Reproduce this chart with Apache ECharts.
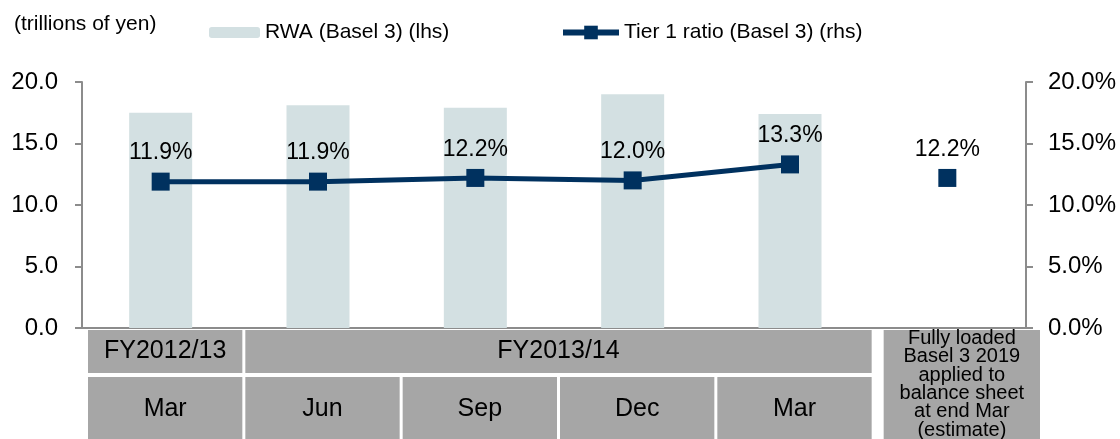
<!DOCTYPE html>
<html>
<head>
<meta charset="utf-8">
<script src="https://cdn.jsdelivr.net/npm/echarts@6/dist/echarts.min.js"></script>
<style>
  html, body { margin: 0; padding: 0; background: #fff; }
  #chart { width: 1120px; height: 439px; }
</style>
</head>
<body>
<div id="chart"></div>
<script>
  // data
  const categories = ['Mar 2013', 'Jun 2013', 'Sep 2013', 'Dec 2013', 'Mar 2014', 'Fully loaded 2019'];
  const rwa = [17.5, 18.1, 17.9, 19.0, 17.4, null];           // trillions of yen (lhs)
  const tier1 = [11.9, 11.9, 12.2, 12.0, 13.3, null];         // % (rhs)
  const tier1Estimate = [null, null, null, null, null, 12.2]; // % (rhs), not joined
  const leftTicks = [0, 20, 5];   // min, max, interval
  const rightTicks = [0, 20, 5];
  const fiscalYears = [
    { label: 'FY2012/13', from: 0, to: 0 },
    { label: 'FY2013/14', from: 1, to: 4 }
  ];
  const monthLabels = ['Mar', 'Jun', 'Sep', 'Dec', 'Mar'];
  const estimateLabel = 'Fully loaded\nBasel 3 2019\napplied to\nbalance sheet\nat end Mar\n(estimate)';

  const FONT = '"Liberation Sans", Arial, sans-serif';
  const NAVY = '#00315f';
  const GREY_AXIS = '#8c8c8c';
  const CELL = '#a6a6a6';

  const chart = echarts.init(document.getElementById('chart'));

  const pctLabel = {
    show: true,
    position: 'top',
    distance: 8,
    color: '#000',
    fontSize: 23,
    fontFamily: FONT,
    formatter: p => p.value.toFixed(1) + '%'
  };

  chart.setOption({
    animation: false,
    textStyle: { fontFamily: FONT },
    grid: { left: 82, right: 94, top: 82, bottom: 111 },
    legend: [
      {
        data: ['RWA (Basel 3) (lhs)'],
        left: 209, top: 22, padding: 0,
        itemWidth: 51, itemHeight: 11,
        textStyle: { fontSize: 21, color: '#000', fontFamily: FONT }
      },
      {
        data: [{ name: 'Tier 1 ratio (Basel 3) (rhs)', lineStyle: { width: 6 } }],
        left: 560, top: 22, padding: 0,
        itemWidth: 56, itemHeight: 17,
        textStyle: { fontSize: 21, color: '#000', fontFamily: FONT }
      }
    ],
    xAxis: {
      type: 'category',
      data: categories,
      axisLine: { lineStyle: { color: GREY_AXIS, width: 2 } },
      axisTick: { show: false },
      axisLabel: { show: false }
    },
    yAxis: [
      {
        type: 'value',
        min: leftTicks[0], max: leftTicks[1], interval: leftTicks[2],
        axisLine: { show: true, lineStyle: { color: GREY_AXIS, width: 2 } },
        axisTick: { show: true, length: 7, lineStyle: { color: GREY_AXIS, width: 2 } },
        splitLine: { show: false },
        axisLabel: { margin: 24, fontSize: 24, color: '#000', formatter: v => v.toFixed(1) }
      },
      {
        type: 'value',
        min: rightTicks[0], max: rightTicks[1], interval: rightTicks[2],
        axisLine: { show: true, lineStyle: { color: GREY_AXIS, width: 2 } },
        axisTick: { show: true, length: 7, lineStyle: { color: GREY_AXIS, width: 2 } },
        splitLine: { show: false },
        axisLabel: { margin: 22, fontSize: 24, color: '#000', formatter: v => v.toFixed(1) + '%' }
      }
    ],
    series: [
      {
        name: 'RWA (Basel 3) (lhs)',
        type: 'bar',
        barWidth: 63,
        itemStyle: { color: '#d3e0e2' },
        data: rwa
      },
      {
        name: 'Tier 1 ratio (Basel 3) (rhs)',
        type: 'line',
        yAxisIndex: 1,
        symbol: 'rect',
        symbolSize: 18,
        lineStyle: { color: NAVY, width: 5 },
        itemStyle: { color: NAVY },
        label: pctLabel,
        data: tier1,
        z: 3
      },
      {
        name: 'Tier 1 ratio estimate',
        type: 'line',
        yAxisIndex: 1,
        symbol: 'rect',
        symbolSize: 18,
        lineStyle: { color: NAVY, width: 5 },
        itemStyle: { color: NAVY },
        label: pctLabel,
        data: tier1Estimate,
        z: 3
      }
    ]
  });

  // table under the axis, laid out from the category band positions
  function drawTable() {
    const c0 = chart.convertToPixel({ xAxisIndex: 0 }, 0);
    const c1 = chart.convertToPixel({ xAxisIndex: 0 }, 1);
    const half = (c1 - c0) / 2;
    const edge = i => c0 - half + i * 2 * half; // left edge of band i
    const els = [];
    const cell = (x0, x1, y0, y1, text, size, lh) => {
      els.push({
        type: 'rect',
        shape: { x: x0, y: y0, width: x1 - x0, height: y1 - y0 },
        style: { fill: CELL },
        silent: true
      });
      els.push({
        type: 'text',
        x: (x0 + x1) / 2,
        y: lh ? y0 - 1 : (y0 + y1) / 2,
        style: {
          text: text, fill: '#000', font: size + 'px ' + FONT,
          align: 'center', verticalAlign: lh ? 'top' : 'middle',
          lineHeight: lh || size
        },
        silent: true
      });
    };
    fiscalYears.forEach(f => {
      cell(edge(f.from) + 6, edge(f.to + 1) + 3, 330, 373, f.label, 25);
    });
    monthLabels.forEach((m, i) => {
      cell(edge(i) + 6, edge(i + 1) + 3, 377, 441, m, 25);
    });
    cell(edge(5) + 15, edge(6) + 14, 330, 445, estimateLabel, 20, 18.4);
    els.push({
      type: 'text', x: 14, y: 24,
      style: { text: '(trillions of yen)', fill: '#000', font: '21px ' + FONT, verticalAlign: 'middle' },
      silent: true
    });
    chart.setOption({ graphic: { elements: els } });
  }
  drawTable();
</script>
</body>
</html>
